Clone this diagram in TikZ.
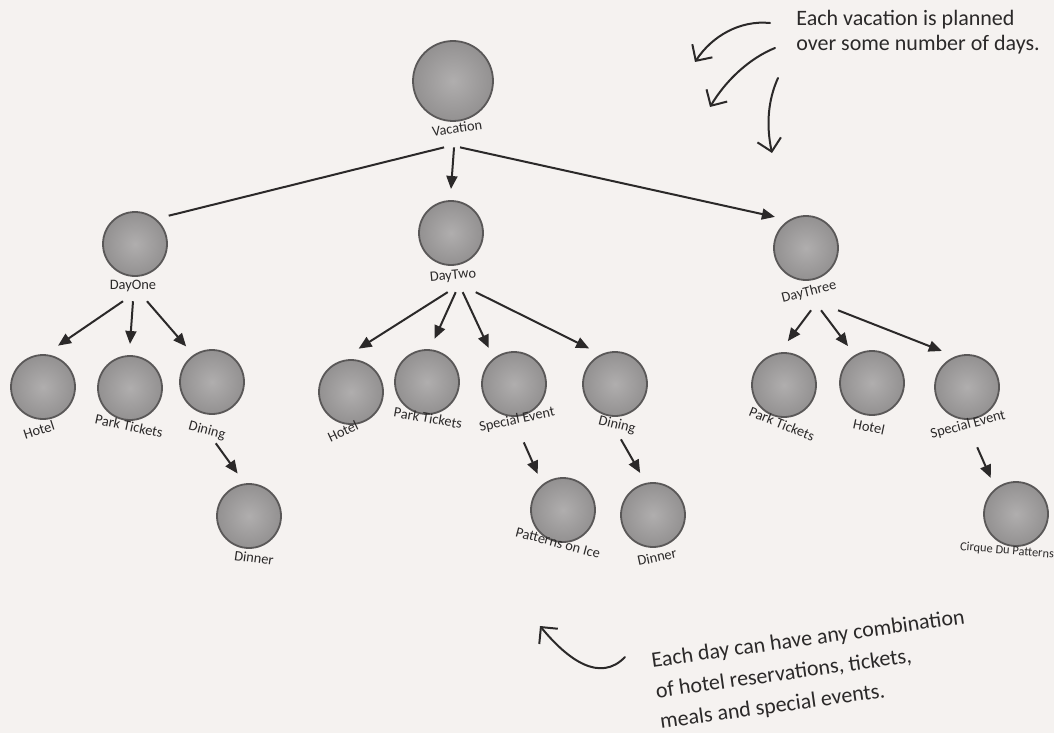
\documentclass[tikz,border=0pt]{standalone}
\usepackage{fontspec}
\setmainfont{Carlito}
\usetikzlibrary{positioning,arrows.meta,calc}
\definecolor{vpaper}{HTML}{F5F2F0}
\definecolor{vink}{HTML}{2B2929}
\definecolor{vballin}{HTML}{B0AEAE}
\definecolor{vballout}{HTML}{939191}
\definecolor{vrim}{HTML}{5A5858}

\tikzset{
  ball/.style={circle,minimum size=32pt,inner sep=0pt,outer sep=6pt,draw=vrim,line width=0.9pt,inner color=vballin,outer color=vballout},
  tag/.style={font=\fontsize{7.2}{8}\selectfont,text=vink,inner sep=1pt},
  link/.style={vink,line width=1pt,-{Triangle[length=6.5pt,width=5.5pt]}},
  hand/.style={vink,line width=1pt,line cap=round,-{Straight Barb[length=6pt,width=12pt]}},
  note/.style={font=\fontsize{11}{12.5}\selectfont,text=vink,align=left,inner sep=0pt}
}

\begin{document}
\begin{tikzpicture}[x=0.5pt,y=-0.5pt]
  \fill[vpaper] (0,0) rectangle (1054,733);
  \useasboundingbox (0,0) rectangle (1054,733);

  % the circles
  \node[ball,minimum size=40pt] (vac) at (453,81) {};
  \foreach \n/\x/\y in {
    d1/135/244, d2/451/233, d3/806/248,
    d1hotel/43/387, d1park/130/388, d1dine/212/382, d1dinner/249/516,
    d2hotel/351/392, d2park/427/382, d2event/514/384, d2dine/615/384,
    d2ice/563/510, d2dinner/653/515,
    d3park/784/385, d3hotel/872/383, d3event/967/387, d3cirque/1016/514}
    {\node[ball] (\n) at (\x,\y) {};}

  % the names under them
  \foreach \n/\x/\y/\r/\lab in {
    vac/457/128/8/Vacation,
    d1/133/286/0/DayOne, d2/453/276/5/DayTwo, d3/809/292/14/DayThree,
    d1hotel/39/430/18/Hotel, d1park/129/426/-12/Park Tickets,
    d1dine/207/431/-15/Dining, d1dinner/254/558/-8/Dinner,
    d2hotel/343/431/25/Hotel, d2park/428/418/-10/Park Tickets,
    d2event/517/420/12/Special Event, d2dine/617/425/-14/Dining,
    d2ice/558/543/-15/Patterns on Ice, d2dinner/657/557/12/Dinner,
    d3park/782/424/-22/Park Tickets, d3hotel/869/427/-12/Hotel,
    d3event/968/425/15/Special Event}
    {\node[tag,rotate=\r] (\n-t) at (\x,\y) {\lab};}
  \node[tag,font=\fontsize{6.2}{7}\selectfont,rotate=-5] (d3cirque-t) at (1007,551) {Cirque Du Patterns};

  % vacation -> days
  \draw[vink,line width=1pt] ([xshift=-7pt,yshift=-6pt]vac-t.south) -- (d1.40);
  \draw[link] ([xshift=-2pt,yshift=-6pt]vac-t.south) -- (d2.90);
  \draw[link] ([xshift=1pt,yshift=-6pt]vac-t.south) -- (d3.135);

  % days -> items
  \draw[link] ([xshift=-5pt,yshift=-3.5pt]d1-t.south) -- (d1hotel.70);
  \draw[link] ([xshift=0pt,yshift=-3.5pt]d1-t.south) -- (d1park.90);
  \draw[link] ([xshift=7pt,yshift=-3.5pt]d1-t.south) -- (d1dine.126);
  \draw[link] ([xshift=-3pt,yshift=-4pt]d2-t.south) -- (d2hotel.80);
  \draw[link] ([xshift=1pt,yshift=-4pt]d2-t.south) -- (d2park.80);
  \draw[link] ([xshift=4.5pt,yshift=-4pt]d2-t.south) -- (d2event.125);
  \draw[link] ([xshift=11pt,yshift=-4pt]d2-t.south) -- (d2dine.126);
  \draw[link] ([xshift=0pt,yshift=-5pt]d3-t.south) -- (d3park.85);
  \draw[link] ([xshift=5pt,yshift=-5pt]d3-t.south) -- (d3hotel.123);
  \draw[link] ([xshift=13.5pt,yshift=-5pt]d3-t.south) -- (d3event.125);

  % items -> details
  \draw[link] ([xshift=5.5pt,yshift=-2pt]d1dine-t.south) -- (d1dinner.105);
  \draw[link] ([xshift=2.5pt,yshift=-7pt]d2event-t.south) -- (d2ice.125);
  \draw[link] ([xshift=3pt,yshift=-3pt]d2dine-t.south) -- (d2dinner.107);
  \draw[link] ([xshift=3.5pt,yshift=-7pt]d3event-t.south) -- (d3cirque.125);

  % notes
  \node[note,anchor=north west] (topnote) at (796,10)
    {Each vacation is planned\\over some number of days.};
  \node[note,anchor=north west,rotate=8,font=\fontsize{11}{15.5}\selectfont] (lownote) at (650,652)
    {Each day can have any combination\\of hotel reservations, tickets,\\meals and special events.};

  \coordinate (tailA) at (770,23);
  \coordinate (tipA) at (695,62);
  \coordinate (tailB) at (775,48);
  \coordinate (tipB) at (710,107);
  \coordinate (tailC) at (778,78);
  \coordinate (tipC) at (772,153);
  \coordinate (tailD) at (625,657);
  \coordinate (tipD) at (540,626);
  \draw[hand] (tailA) .. controls (740,20) and (712,36) .. (tipA);
  \draw[hand] (tailB) .. controls (750,58) and (726,80) .. (tipB);
  \draw[hand] (tailC) .. controls (768,100) and (766,125) .. (tipC);
  \draw[hand] (tailD) .. controls (600,683) and (568,660) .. (tipD);
\end{tikzpicture}
\end{document}
